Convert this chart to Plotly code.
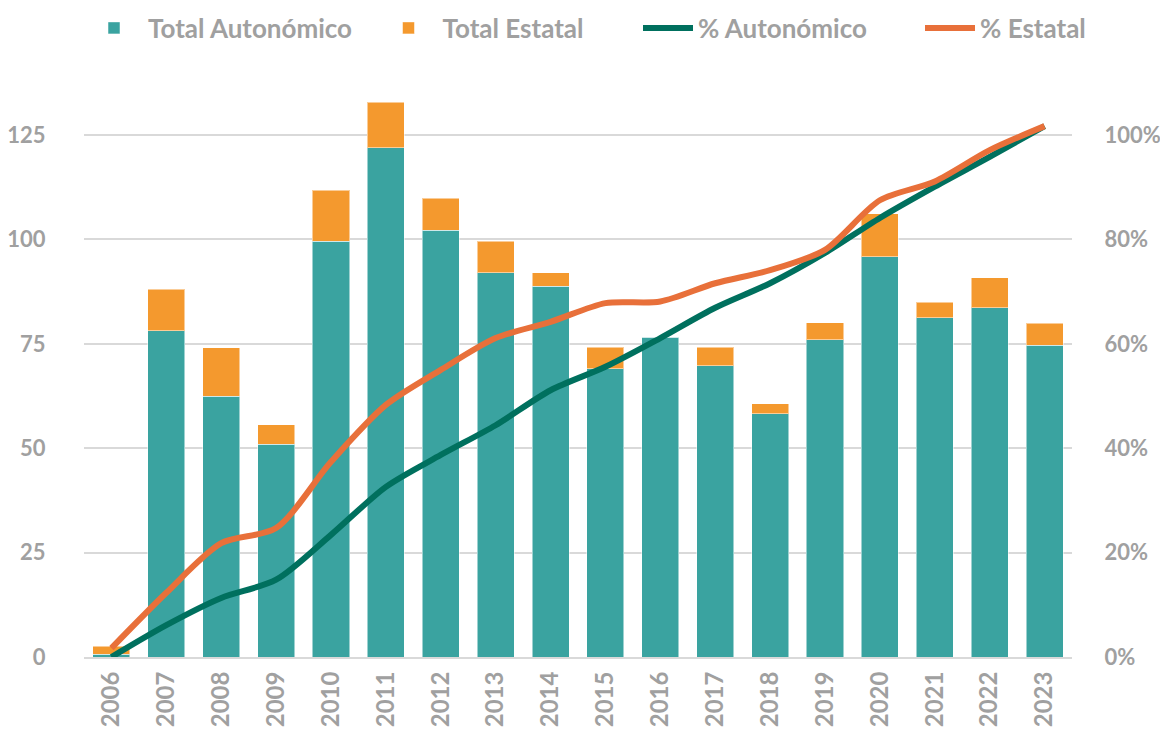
import plotly.graph_objects as go

years = ["2006", "2007", "2008", "2009", "2010", "2011", "2012", "2013", "2014",
         "2015", "2016", "2017", "2018", "2019", "2020", "2021", "2022", "2023"]
total_autonomico = [0.7, 78.1, 62.5, 51.0, 99.6, 121.9, 102.2, 92.0, 88.8,
                    69.0, 76.6, 69.7, 58.2, 76.0, 95.9, 81.2, 83.6, 74.7]
total_estatal = [1.9, 10.0, 11.5, 4.6, 12.2, 11.0, 7.7, 7.6, 3.2,
                 5.2, 0.0, 4.5, 2.5, 4.0, 10.2, 3.8, 7.2, 5.2]
pct_autonomico = [0.0, 0.061, 0.113, 0.148, 0.234, 0.326, 0.387, 0.444, 0.511,
                  0.556, 0.611, 0.669, 0.716, 0.774, 0.841, 0.901, 0.958, 1.017]
pct_estatal = [0.017, 0.123, 0.218, 0.247, 0.374, 0.483, 0.550, 0.611, 0.642,
               0.678, 0.681, 0.716, 0.741, 0.780, 0.875, 0.911, 0.971, 1.017]

left_ticks = [0, 25, 50, 75, 100, 125]
right_ticks = [0, 0.2, 0.4, 0.6, 0.8, 1.0]
right_labels = ["0%", "20%", "40%", "60%", "80%", "100%"]

TEAL = "#3AA3A0"
ORANGE = "#F4992E"
DARK = "#00705E"
ORANGE_LINE = "#E8703A"
GRAY = "#A0A0A0"
FONT = "Lato"

fig = go.Figure()
fig.add_trace(go.Bar(x=years, y=total_autonomico, name="Total Autonómico", legend="legend",
                     marker=dict(color=TEAL, line=dict(color="rgba(255,255,255,0.5)", width=1))))
fig.add_trace(go.Bar(x=years, y=total_estatal, name="Total Estatal", legend="legend2",
                     marker=dict(color=ORANGE, line=dict(color="rgba(255,255,255,0.5)", width=1))))
fig.add_trace(go.Scatter(x=years, y=pct_autonomico, name="% Autonómico", yaxis="y2", legend="legend3",
                         mode="lines", line=dict(color=DARK, width=6, shape="spline", smoothing=0.8)))
fig.add_trace(go.Scatter(x=years, y=pct_estatal, name="% Estatal", yaxis="y2", legend="legend4",
                         mode="lines", line=dict(color=ORANGE_LINE, width=6, shape="spline", smoothing=0.8)))

# page has an 8px body margin: screen = figure + 8
L, T, B_ = 76, 72, 649
PW = 1064 - L
PH = B_ - T
ymax = PH / 4.176
tickfont = dict(family=FONT, size=22, color=GRAY, weight="bold")
legfont = dict(family=FONT, size=26, color=GRAY, weight="bold")
leg_y = 1.0 + (T - 20) / PH


def leg(fig_x, w):
    return dict(orientation="h", x=(fig_x - L) / PW, xanchor="left", y=leg_y, yanchor="middle",
                font=legfont, itemwidth=w, bgcolor="rgba(0,0,0,0)")


fig.update_layout(
    width=1168, height=734,
    margin=dict(l=L, r=1168 - 1064, t=T, b=734 - B_, autoexpand=False),
    paper_bgcolor="white", plot_bgcolor="white",
    barmode="stack", bargap=0.325,
    font=dict(family=FONT, color=GRAY, size=20),
    showlegend=True,
    legend=leg(72, 58),
    legend2=leg(366.5, 58),
    legend3=leg(630, 50),
    legend4=leg(912, 50),
    xaxis=dict(type="category", tickangle=-90, showgrid=False, automargin=False,
               showline=True, linecolor="#D9D9D9", linewidth=2,
               tickfont=dict(family=FONT, size=24, color=GRAY, weight="bold"),
               ticks="outside", ticklen=3, tickcolor="rgba(0,0,0,0)"),
    yaxis=dict(range=[0, ymax], tickvals=left_ticks, showgrid=True, automargin=False,
               gridcolor="#D9D9D9", gridwidth=1.5, zeroline=False,
               tickfont=tickfont,
               ticks="outside", ticklen=33, tickcolor="rgba(0,0,0,0)"),
    yaxis2=dict(range=[0, ymax / 125], overlaying="y", side="right", automargin=False,
                tickvals=right_ticks, ticktext=right_labels, showgrid=False,
                zeroline=False,
                tickfont=tickfont,
                ticks="outside", ticklen=27, tickcolor="rgba(0,0,0,0)"),
)

fig.write_html("out.html")
